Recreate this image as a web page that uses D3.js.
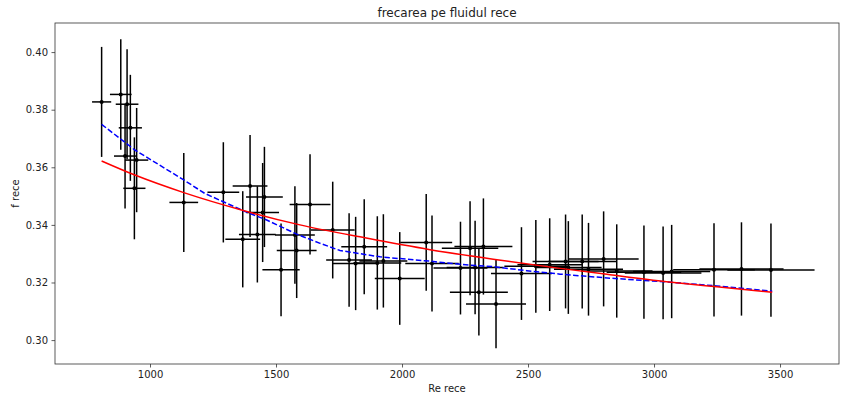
<!DOCTYPE html>
<html>
<head>
<meta charset="utf-8">
<script src="https://cdn.jsdelivr.net/npm/d3@7"></script>
<style>
  body { margin: 0; background: #fff; }
  svg text { font-family: "DejaVu Sans", sans-serif; fill: #222; }
</style>
</head>
<body>
<div id="vis"></div>
<script>
// friction factor vs Reynolds number, cold fluid

// measured points (Re, f) with their error half-widths
const RE = [808, 884, 909, 922, 901, 947, 938, 1134, 1291, 1397, 1454, 1447, 1368, 1426, 1575, 1635,
  1582, 1520, 1725, 1790, 1816, 1850, 1902, 1926, 1991, 2096, 2119, 2232, 2305, 2373, 2270, 2323,
  2290, 2474, 2531, 2586, 2649, 2660, 2715, 2740, 2800, 2852, 2960, 3036, 3070, 3238, 3347, 3464];
const F = [0.3827, 0.3853, 0.3819, 0.3737, 0.3639, 0.3625, 0.3527, 0.3478, 0.3513, 0.3535, 0.3497, 0.3443,
  0.3350, 0.3367, 0.3365, 0.3471, 0.3311, 0.3244, 0.3382, 0.3278, 0.3266, 0.3324, 0.3268, 0.3275,
  0.3214, 0.3339, 0.3266, 0.3250, 0.3166, 0.3125, 0.3319, 0.3325, 0.3252, 0.3231, 0.3256, 0.3262,
  0.3273, 0.3252, 0.3273, 0.3246, 0.3282, 0.3240, 0.3236, 0.3233, 0.3238, 0.3244, 0.3247, 0.3243];
const RE_ERR = [38, 43, 45, 46, 44, 46, 44, 57, 63, 69, 73, 65, 69, 73, 79, 81,
  79, 74, 87, 91, 91, 91, 95, 95, 99, 103, 106, 107, 115, 119, 112, 115,
  113, 121, 125, 128, 131, 132, 135, 137, 139, 142, 148, 152, 153, 162, 167, 173];
const F_ERR = [0.0191, 0.0192, 0.0191, 0.0184, 0.0182, 0.0181, 0.0177, 0.0172, 0.0174, 0.0177, 0.0174, 0.0172,
  0.0167, 0.0167, 0.0169, 0.0174, 0.0165, 0.0161, 0.0168, 0.0162, 0.0162, 0.0165, 0.0162, 0.0162,
  0.0161, 0.0168, 0.0167, 0.0161, 0.0150, 0.0153, 0.0163, 0.0167, 0.0162, 0.0161, 0.0161, 0.0161,
  0.0163, 0.0161, 0.0163, 0.0161, 0.0165, 0.0162, 0.0162, 0.0161, 0.0162, 0.0162, 0.0162, 0.0162];

// red fitted curve
const FIT_RE = [808, 940, 1134, 1370, 1595, 1853, 2111, 2362, 2627, 2825, 3050, 3249, 3469];
const FIT_F = [0.3622, 0.3573, 0.3512, 0.3450, 0.3400, 0.3355, 0.3314, 0.3281, 0.3249, 0.3227, 0.3203, 0.3185, 0.3166];

// blue dashed curve
const CORR_RE = [808, 940, 1134, 1218, 1370, 1463, 1582, 1675, 1754, 1913, 2111, 2270, 2362, 2495, 2627, 2825, 3050, 3249, 3469];
const CORR_F = [0.3749, 0.3660, 0.3556, 0.3509, 0.3449, 0.3417, 0.3368, 0.3336, 0.3311, 0.3289, 0.3274, 0.3260,
  0.3255, 0.3241, 0.3229, 0.3215, 0.3202, 0.3188, 0.3170];

const X_TICKS = [1000, 1500, 2000, 2500, 3000, 3500];
const Y_TICKS = [0.30, 0.32, 0.34, 0.36, 0.38, 0.40];

const FRAME_WIDTH = 841;
const FRAME_HEIGHT = 394;
const MARGINS = {left: 55, right: 2, top: 23, bottom: 30};

const svg = d3.select("#vis").append("svg")
    .attr("width", FRAME_WIDTH)
    .attr("height", FRAME_HEIGHT);

const xScale = d3.scaleLinear()
    .domain([623, 3734])
    .range([MARGINS.left, FRAME_WIDTH - MARGINS.right]);

const yScale = d3.scaleLinear()
    .domain([0.2917, 0.4101])
    .range([FRAME_HEIGHT - MARGINS.bottom, MARGINS.top]);

const points = RE.map((r, i) => ({re: r, f: F[i], ex: RE_ERR[i], ey: F_ERR[i]}));

// error bars
const bars = svg.append("g")
    .attr("stroke", "#000")
    .attr("stroke-width", 1.5);

bars.selectAll(".ex").data(points).enter().append("line")
    .attr("x1", d => xScale(d.re - d.ex))
    .attr("x2", d => xScale(d.re + d.ex))
    .attr("y1", d => yScale(d.f))
    .attr("y2", d => yScale(d.f));

bars.selectAll(".ey").data(points).enter().append("line")
    .attr("x1", d => xScale(d.re))
    .attr("x2", d => xScale(d.re))
    .attr("y1", d => yScale(d.f - d.ey))
    .attr("y2", d => yScale(d.f + d.ey));

svg.append("g").selectAll("circle").data(points).enter().append("circle")
    .attr("cx", d => xScale(d.re))
    .attr("cy", d => yScale(d.f))
    .attr("r", 2)
    .attr("fill", "#000");

// curves
const line = d3.line()
    .x(d => xScale(d[0]))
    .y(d => yScale(d[1]));

svg.append("path")
    .datum(CORR_RE.map((r, i) => [r, CORR_F[i]]))
    .attr("d", line)
    .attr("fill", "none")
    .attr("stroke", "#0000ff")
    .attr("stroke-width", 1.5)
    .attr("stroke-dasharray", "5.5,2.4");

svg.append("path")
    .datum(FIT_RE.map((r, i) => [r, FIT_F[i]]))
    .attr("d", line.curve(d3.curveMonotoneX))
    .attr("fill", "none")
    .attr("stroke", "#ff0000")
    .attr("stroke-width", 1.5);

// axes
const xAxis = svg.append("g")
    .attr("transform", "translate(0," + (FRAME_HEIGHT - MARGINS.bottom) + ")")
    .call(d3.axisBottom(xScale).tickValues(X_TICKS).tickFormat(d3.format("d")).tickSize(3.5).tickPadding(3.5));

const yAxis = svg.append("g")
    .attr("transform", "translate(" + MARGINS.left + ",0)")
    .call(d3.axisLeft(yScale).tickValues(Y_TICKS).tickFormat(d3.format(".2f")).tickSize(3.5).tickPadding(3.5));

[xAxis, yAxis].forEach(a => {
  a.select(".domain").remove();
  a.selectAll("line").attr("stroke", "#333").attr("stroke-width", 0.8);
  a.selectAll("text").attr("font-size", "10px").attr("font-family", "DejaVu Sans");
});

// box around plot
svg.append("rect")
    .attr("x", MARGINS.left)
    .attr("y", MARGINS.top)
    .attr("width", FRAME_WIDTH - MARGINS.right - MARGINS.left)
    .attr("height", FRAME_HEIGHT - MARGINS.bottom - MARGINS.top)
    .attr("fill", "none")
    .attr("stroke", "#333")
    .attr("stroke-width", 0.8);

// labels
svg.append("text")
    .attr("x", (MARGINS.left + FRAME_WIDTH - MARGINS.right) / 2)
    .attr("y", 17)
    .attr("text-anchor", "middle")
    .attr("font-size", "12px")
    .text("frecarea pe fluidul rece");

svg.append("text")
    .attr("x", (MARGINS.left + FRAME_WIDTH - MARGINS.right) / 2)
    .attr("y", 392)
    .attr("text-anchor", "middle")
    .attr("font-size", "10px")
    .text("Re rece");

svg.append("text")
    .attr("transform", "translate(19," + ((MARGINS.top + FRAME_HEIGHT - MARGINS.bottom) / 2) + ") rotate(-90)")
    .attr("text-anchor", "middle")
    .attr("font-size", "10px")
    .text("f rece");
</script>
</body>
</html>
